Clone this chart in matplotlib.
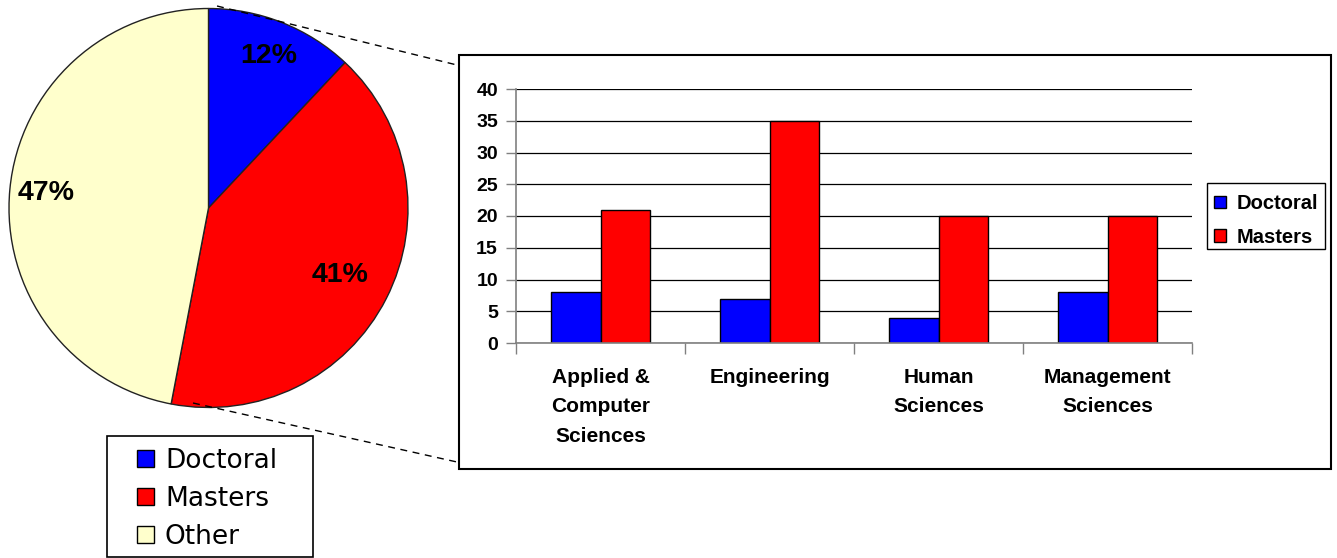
import matplotlib
matplotlib.use('Agg')
import matplotlib.pyplot as plt
import numpy as np
from matplotlib.lines import Line2D
from matplotlib.patches import Rectangle

# data
pie_labels = ['Doctoral', 'Masters', 'Other']
pie_shares = [12, 41, 47]

fields = ['Applied &\nComputer\nSciences', 'Engineering', 'Human\nSciences', 'Management\nSciences']
doctoral = [8, 7, 4, 8]
masters = [21, 35, 20, 20]

blue = '#0000ff'
red = '#ff0000'
cream = '#ffffcc'

W, H = 1337, 558
plt.rcParams['font.family'] = ['Liberation Sans', 'DejaVu Sans']

fig = plt.figure(figsize=(W / 100, H / 100), dpi=100, facecolor='w')


def px(x0, y0, x1, y1):
    # pixel box (top-left origin) -> figure fraction rect
    return [x0 / W, 1 - y1 / H, (x1 - x0) / W, (y1 - y0) / H]


def box(x0, y0, x1, y1, lw):
    fig.add_artist(Rectangle((x0 / W, 1 - y1 / H), (x1 - x0) / W, (y1 - y0) / H,
                             transform=fig.transFigure, fill=False, edgecolor='black',
                             linewidth=lw))


# pie
ax_pie = fig.add_axes(px(9, 8.5, 408, 407.5))
wedges, _ = ax_pie.pie(pie_shares, colors=[blue, red, cream], startangle=90, counterclock=False,
                       radius=1, wedgeprops={'edgecolor': '#222222', 'linewidth': 1})
ax_pie.set_xlim(-1, 1)
ax_pie.set_ylim(-1, 1)
ax_pie.set_aspect('equal')
label_dist = [0.82, 0.74, 0.82]
for w, share, d in zip(wedges, pie_shares, label_dist):
    a = np.deg2rad((w.theta1 + w.theta2) / 2)
    ax_pie.text(d * np.cos(a), d * np.sin(a), '%d%%' % share, ha='center', va='center',
                fontsize=20.5, fontweight='bold')

box(107, 436, 313, 557, 1.2)
leg1 = fig.legend(wedges, pie_labels, loc='upper left', bbox_to_anchor=(137 / W, 1 - 448 / H),
                  frameon=False, prop={'family': 'DejaVu Sans', 'size': 19},
                  handlelength=0.64, handleheight=0.64, handletextpad=0.42, labelspacing=0.45,
                  borderpad=0, borderaxespad=0)
for h in leg1.legend_handles:
    h.set_edgecolor('black')
    h.set_linewidth(1)

# bar chart frame
box(459, 55, 1331, 469, 1.5)

# dashed connector lines
fig.add_artist(Line2D([217 / W, 457 / W], [1 - 6 / H, 1 - 65 / H], transform=fig.transFigure,
                      color='black', linestyle=(0, (5, 4)), linewidth=1))
fig.add_artist(Line2D([193 / W, 457 / W], [1 - 403 / H, 1 - 462 / H], transform=fig.transFigure,
                      color='black', linestyle=(0, (5, 4)), linewidth=1))

ax = fig.add_axes(px(516, 89, 1192, 343))
x = np.arange(len(fields))
bw = 0.29
b1 = ax.bar(x - bw / 2, doctoral, bw, color=blue, edgecolor='black', linewidth=1, label='Doctoral', zorder=3)
b2 = ax.bar(x + bw / 2, masters, bw, color=red, edgecolor='black', linewidth=1, label='Masters', zorder=3)
ax.set_xlim(-0.5, len(fields) - 0.5)
ax.set_ylim(0, 40)
ax.set_yticks(np.arange(0, 41, 5))
ax.set_yticklabels([str(v) for v in range(0, 41, 5)], fontsize=14, fontweight='bold')
ax.yaxis.grid(True, color='black', linewidth=0.9)
ax.set_axisbelow(True)
ax.set_xticks(np.arange(-0.5, len(fields)))
ax.set_xticklabels([])
ax.set_xticks(x, minor=True)
ax.set_xticklabels(fields, minor=True, fontsize=15, fontweight='bold', linespacing=1.7)
ax.tick_params(axis='x', which='minor', length=0, pad=18)
ax.tick_params(axis='x', which='major', length=8, color='#808080', width=1)
ax.tick_params(axis='y', length=7, color='#808080', width=1, pad=6)
for s in ['top', 'right']:
    ax.spines[s].set_visible(False)
for s in ['left', 'bottom']:
    ax.spines[s].set_color('#808080')
    ax.spines[s].set_linewidth(1.2)
    ax.spines[s].set_zorder(4)

box(1207, 183, 1325, 249, 1)
leg2 = fig.legend([b1, b2], ['Doctoral', 'Masters'], loc='upper left',
                  bbox_to_anchor=(1214 / W, 1 - 194 / H), frameon=False,
                  prop={'size': 14.5, 'weight': 'bold'},
                  handlelength=0.6, handleheight=0.6, handletextpad=0.5, labelspacing=0.74,
                  borderpad=0, borderaxespad=0)

fig.savefig('out.png', dpi=100, facecolor='w')
